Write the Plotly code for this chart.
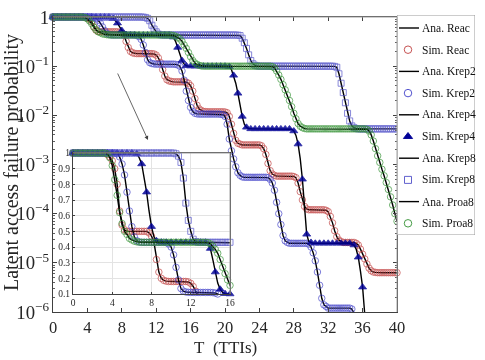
import math
import plotly.graph_objects as go

# ---------------- data ----------------
T = [i * 0.25 for i in range(161)]  # TTIs, 0 .. 40 step 0.25

REAC = [
    1.0, 1.0, 1.0, 1.0,
    1.0, 1.0, 1.0, 1.0,
    1.0, 1.0, 1.0, 1.0,
    1.0, 1.0, 0.99, 0.975,
    0.95, 0.9, 0.8, 0.63,
    0.54, 0.51, 0.5, 0.5,
    0.5, 0.5, 0.5, 0.5,
    0.5, 0.5, 0.5, 0.49,
    0.47, 0.43, 0.32, 0.24,
    0.2, 0.187, 0.182, 0.18,
    0.18, 0.18, 0.18, 0.18,
    0.18, 0.18, 0.18, 0.177,
    0.168, 0.148, 0.118, 0.085,
    0.063, 0.053, 0.05, 0.049,
    0.048, 0.048, 0.048, 0.048,
    0.048, 0.048, 0.047, 0.045,
    0.04, 0.031, 0.022, 0.016,
    0.0135, 0.0125, 0.012, 0.0119,
    0.0118, 0.0118, 0.0118, 0.0118,
    0.0118, 0.0118, 0.0118, 0.0118,
    0.0117, 0.0113, 0.0095, 0.0066,
    0.0043, 0.0031, 0.0027, 0.0026,
    0.0025, 0.0025, 0.0025, 0.0025,
    0.0025, 0.0025, 0.0025, 0.0025,
    0.0025, 0.0024, 0.0021, 0.0016,
    0.00105, 0.00075, 0.00064, 0.0006,
    0.00058, 0.00058, 0.00058, 0.00058,
    0.00058, 0.00058, 0.00058, 0.00058,
    0.00057, 0.00054, 0.00042, 0.00028,
    0.00019, 0.00014, 0.000125, 0.00012,
    0.00012, 0.00012, 0.00012, 0.00012,
    0.00012, 0.00012, 0.00012, 0.000117,
    0.00011, 8.8e-5, 6.5e-5, 4.5e-5,
    3.4e-5, 2.9e-5, 2.7e-5, 2.6e-5,
    2.6e-5, 2.6e-5, 2.6e-5, 2.6e-5,
    2.6e-5, 2.5e-5, 2.3e-5, 1.9e-5,
    1.5e-5, 1.2e-5, 9.5e-6, 7.8e-6,
    6.9e-6, 6.5e-6, 6.4e-6, 6.3e-6,
    6.3e-6, 6.3e-6, 6.3e-6, 6.3e-6,
    6.3e-6, 6.3e-6, 6.3e-6, 6.3e-6,
    6.3e-6,
]

KREP2 = [
    1.0, 1.0, 1.0, 1.0,
    1.0, 1.0, 1.0, 1.0,
    1.0, 1.0, 1.0, 1.0,
    1.0, 1.0, 1.0, 1.0,
    1.0, 1.0, 0.995, 0.975,
    0.93, 0.86, 0.75, 0.63,
    0.53, 0.465, 0.44, 0.432,
    0.43, 0.43, 0.43, 0.43,
    0.43, 0.43, 0.43, 0.43,
    0.43, 0.43, 0.428, 0.42,
    0.4, 0.35, 0.27, 0.19,
    0.135, 0.118, 0.113, 0.111,
    0.11, 0.11, 0.11, 0.11,
    0.11, 0.11, 0.11, 0.11,
    0.11, 0.109, 0.106, 0.1,
    0.08, 0.052, 0.031, 0.02,
    0.0145, 0.012, 0.011, 0.0107,
    0.0106, 0.0106, 0.0106, 0.0106,
    0.0106, 0.0106, 0.0106, 0.0106,
    0.0106, 0.0106, 0.0105, 0.0103,
    0.0095, 0.0066, 0.0033, 0.0019,
    0.0013, 0.0009, 0.00068, 0.0006,
    0.00056, 0.00055, 0.00055, 0.00055,
    0.00055, 0.00055, 0.00055, 0.00055,
    0.00055, 0.00055, 0.00055, 0.00055,
    0.00054, 0.0005, 0.00042, 0.0003,
    0.00017, 0.0001, 6.0e-5, 3.6e-5,
    2.8e-5, 2.6e-5, 2.5e-5, 2.5e-5,
    2.5e-5, 2.5e-5, 2.5e-5, 2.5e-5,
    2.5e-5, 2.5e-5, 2.5e-5, 2.4e-5,
    2.1e-5, 1.6e-5, 1.1e-5, 6.5e-6,
    3.5e-6, 1.9e-6, 1.4e-6, 1.3e-6,
    1.2e-6, 1.2e-6, 1.2e-6, 1.2e-6,
    1.2e-6, 1.2e-6, 1.2e-6, 1.2e-6,
    1.2e-6, 1.2e-6, 1.2e-6, 1.15e-6,
    9.5e-7, 6.0e-7, 2.8e-7, 1.2e-7,
    7.0e-8, 5.0e-8, 4.0e-8, 4.0e-8,
    4.0e-8, 4.0e-8, 4.0e-8, 4.0e-8,
    4.0e-8, 4.0e-8, 4.0e-8, 4.0e-8,
    4.0e-8, 4.0e-8, 4.0e-8, 4.0e-8,
    4.0e-8,
]

KREP4 = [
    1.0, 1.0, 1.0, 1.0,
    1.0, 1.0, 1.0, 1.0,
    1.0, 1.0, 1.0, 1.0,
    1.0, 1.0, 1.0, 1.0,
    1.0, 1.0, 1.0, 1.0,
    1.0, 1.0, 1.0, 1.0,
    1.0, 1.0, 0.995, 0.97,
    0.93, 0.85, 0.75, 0.63,
    0.53, 0.465, 0.44, 0.432,
    0.43, 0.43, 0.43, 0.43,
    0.43, 0.43, 0.43, 0.43,
    0.43, 0.43, 0.43, 0.43,
    0.43, 0.43, 0.43, 0.43,
    0.43, 0.43, 0.43, 0.425,
    0.39, 0.32, 0.24, 0.17,
    0.13, 0.11, 0.102, 0.1,
    0.1, 0.1, 0.1, 0.1,
    0.1, 0.1, 0.1, 0.1,
    0.1, 0.1, 0.1, 0.1,
    0.1, 0.1, 0.1, 0.1,
    0.1, 0.1, 0.098, 0.085,
    0.065, 0.045, 0.028, 0.016,
    0.0095, 0.0066, 0.0057, 0.0054,
    0.0053, 0.0053, 0.0053, 0.0053,
    0.0053, 0.0053, 0.0053, 0.0053,
    0.0053, 0.0053, 0.0053, 0.0053,
    0.0053, 0.0053, 0.0053, 0.0053,
    0.0053, 0.0053, 0.0053, 0.0052,
    0.0048, 0.0039, 0.0026, 0.0013,
    0.0005, 0.00013, 3.8e-5, 2.7e-5,
    2.6e-5, 2.5e-5, 2.5e-5, 2.5e-5,
    2.5e-5, 2.5e-5, 2.5e-5, 2.5e-5,
    2.5e-5, 2.5e-5, 2.5e-5, 2.5e-5,
    2.5e-5, 2.5e-5, 2.5e-5, 2.5e-5,
    2.5e-5, 2.5e-5, 2.5e-5, 2.4e-5,
    2.3e-5, 1.9e-5, 1.3e-5, 6.8e-6,
    3.2e-6, 9.0e-7, 2.5e-7, 1.0e-7,
    6.0e-8, 5.0e-8, 5.0e-8, 5.0e-8,
    5.0e-8, 5.0e-8, 5.0e-8, 5.0e-8,
    5.0e-8, 5.0e-8, 5.0e-8, 5.0e-8,
    5.0e-8,
]

KREP8 = [
    1.0, 1.0, 1.0, 1.0,
    1.0, 1.0, 1.0, 1.0,
    1.0, 1.0, 1.0, 1.0,
    1.0, 1.0, 1.0, 1.0,
    1.0, 1.0, 1.0, 1.0,
    1.0, 1.0, 1.0, 1.0,
    1.0, 1.0, 1.0, 1.0,
    1.0, 1.0, 1.0, 1.0,
    1.0, 1.0, 1.0, 1.0,
    1.0, 1.0, 1.0, 1.0,
    1.0, 1.0, 0.995, 0.98,
    0.94, 0.84, 0.68, 0.57,
    0.5, 0.45, 0.435, 0.43,
    0.43, 0.43, 0.43, 0.43,
    0.43, 0.43, 0.43, 0.43,
    0.43, 0.43, 0.43, 0.43,
    0.43, 0.43, 0.43, 0.43,
    0.43, 0.43, 0.43, 0.43,
    0.43, 0.43, 0.43, 0.43,
    0.43, 0.43, 0.43, 0.43,
    0.43, 0.43, 0.43, 0.43,
    0.43, 0.43, 0.428, 0.42,
    0.37, 0.3, 0.23, 0.17,
    0.13, 0.112, 0.104, 0.101,
    0.1, 0.1, 0.1, 0.1,
    0.1, 0.1, 0.1, 0.1,
    0.1, 0.1, 0.1, 0.1,
    0.1, 0.1, 0.1, 0.1,
    0.1, 0.1, 0.1, 0.1,
    0.1, 0.1, 0.1, 0.1,
    0.1, 0.1, 0.1, 0.1,
    0.1, 0.1, 0.1, 0.1,
    0.1, 0.1, 0.1, 0.099,
    0.095, 0.07, 0.045, 0.029,
    0.018, 0.011, 0.0077, 0.0061,
    0.0056, 0.0054, 0.0053, 0.0053,
    0.0053, 0.0053, 0.0053, 0.0053,
    0.0053, 0.0053, 0.0053, 0.0053,
    0.0053, 0.0053, 0.0053, 0.0053,
    0.0053, 0.0053, 0.0053, 0.0053,
    0.0053,
]

PROA8 = [
    1.0, 1.0, 1.0, 1.0,
    1.0, 1.0, 1.0, 1.0,
    1.0, 1.0, 1.0, 1.0,
    1.0, 1.0, 0.995, 0.97,
    0.92, 0.83, 0.73, 0.62,
    0.55, 0.5, 0.48, 0.455,
    0.445, 0.437, 0.433, 0.431,
    0.43, 0.43, 0.43, 0.43,
    0.43, 0.43, 0.43, 0.43,
    0.43, 0.43, 0.43, 0.43,
    0.43, 0.43, 0.43, 0.43,
    0.43, 0.43, 0.43, 0.43,
    0.43, 0.43, 0.43, 0.43,
    0.43, 0.43, 0.43, 0.428,
    0.42, 0.405, 0.385, 0.36,
    0.32, 0.27, 0.23, 0.19,
    0.155, 0.13, 0.116, 0.108,
    0.104, 0.101, 0.1, 0.1,
    0.1, 0.1, 0.1, 0.1,
    0.1, 0.1, 0.1, 0.1,
    0.1, 0.1, 0.1, 0.1,
    0.1, 0.1, 0.1, 0.1,
    0.1, 0.1, 0.1, 0.1,
    0.1, 0.1, 0.1, 0.1,
    0.1, 0.1, 0.1, 0.1,
    0.1, 0.1, 0.098, 0.092,
    0.08, 0.066, 0.054, 0.042,
    0.033, 0.026, 0.02, 0.015,
    0.011, 0.0085, 0.0068, 0.006,
    0.0056, 0.0054, 0.0053, 0.0053,
    0.0053, 0.0053, 0.0053, 0.0053,
    0.0053, 0.0053, 0.0053, 0.0053,
    0.0053, 0.0053, 0.0053, 0.0053,
    0.0053, 0.0053, 0.0053, 0.0053,
    0.0053, 0.0053, 0.0053, 0.0053,
    0.0053, 0.0053, 0.0053, 0.0053,
    0.0053, 0.0053, 0.0052, 0.0048,
    0.004, 0.003, 0.0021, 0.0015,
    0.0011, 0.0008, 0.00059, 0.00043,
    0.00031, 0.00022, 0.00015, 0.0001,
    7.0e-5,
]

SCHEMES = ["Reac", "Krep2", "Krep4", "Krep8", "Proa8"]
VALUES = [REAC, KREP2, KREP4, KREP8, PROA8]
MARKERS = ["circle-open", "circle-open", "triangle-up", "square-open", "circle-open"]
COLORS = ["rgb(192,64,64)", "rgb(64,64,200)", "rgb(0,0,150)", "rgb(80,80,200)", "rgb(50,145,50)"]
SIZES = [6.5, 6.5, 7, 6, 6.5]
STEPS = [1, 1, 2, 1, 1]

ZOOM_X = 16          # inset / zoom box limits
ZOOM_Y = 0.08
INSET_XTICKS = [0, 4, 8, 12, 16]
INSET_YTICKS = [0.1, 0.2, 0.3, 0.4, 0.5, 0.6, 0.7, 0.8, 0.9, 1.0]
INSET_YTEXT = ["0.1", "0.2", "0.3", "0.4", "0.5", "0.6", "0.7", "0.8", "0.9", "1"]

# ---------------- figure ----------------
W, H = 485, 360
FONT = "Liberation Serif, Times New Roman, serif"
TXT = "#262626"
FRAME_LIGHT = "#a0a0a0"

fig = go.Figure()

for xa, ya in [("x", "y"), ("x2", "y2")]:
    for name, vals, sym, col, sz, st in zip(SCHEMES, VALUES, MARKERS, COLORS, SIZES, STEPS):
        fig.add_trace(go.Scatter(
            x=T, y=vals, mode="lines", xaxis=xa, yaxis=ya,
            line=dict(color="black", width=1.4), showlegend=False, hoverinfo="skip"))
        fig.add_trace(go.Scatter(
            x=T[::st], y=vals[::st], mode="markers", xaxis=xa, yaxis=ya,
            marker=dict(symbol=sym, size=sz, color=col, line=dict(color=col, width=0.8)),
            opacity=0.85, cliponaxis=False, showlegend=False, hoverinfo="skip"))

# ----- manual legend (own invisible axes so it can sit beside the plot) -----
row0, dy = 13, 21.7
for i, (name, sym, col, sz) in enumerate(zip(SCHEMES, MARKERS, COLORS, SIZES)):
    ya = row0 + dy * (2 * i)
    ys = row0 + dy * (2 * i + 1)
    fig.add_trace(go.Scatter(x=[2, 22], y=[ya, ya], mode="lines", xaxis="x3", yaxis="y3",
                             line=dict(color="black", width=1.4), showlegend=False, hoverinfo="skip"))
    fig.add_trace(go.Scatter(x=[11], y=[ys], mode="markers", xaxis="x3", yaxis="y3",
                             marker=dict(symbol=sym, size=sz + 1, color=col, line=dict(color=col, width=0.9)),
                             showlegend=False, hoverinfo="skip"))
    fig.add_annotation(x=23, y=ya, xref="x3", yref="y3", text="Ana. " + name, showarrow=False,
                       xanchor="left", yanchor="middle", font=dict(family=FONT, size=11.5, color="#111"))
    fig.add_annotation(x=23, y=ys, xref="x3", yref="y3", text="Sim. " + name, showarrow=False,
                       xanchor="left", yanchor="middle", font=dict(family=FONT, size=11.5, color="#111"))

fig.add_shape(type="rect", xref="x3", yref="y3", x0=0, x1=78, y0=0, y1=220,
              line=dict(color="#9a9a9a", width=1), fillcolor="white", layer="below")

# lighter top / right frame edges (main plot and inset)
fig.add_shape(type="line", xref="x domain", yref="y domain", x0=0, x1=1, y0=1, y1=1,
              line=dict(color=FRAME_LIGHT, width=1), layer="above")
fig.add_shape(type="line", xref="x domain", yref="y domain", x0=1, x1=1, y0=0, y1=1,
              line=dict(color=FRAME_LIGHT, width=1), layer="above")
fig.add_shape(type="line", xref="x2 domain", yref="y2 domain", x0=0, x1=1, y0=1, y1=1,
              line=dict(color=FRAME_LIGHT, width=1), layer="above")
fig.add_shape(type="line", xref="x2 domain", yref="y2 domain", x0=1, x1=1, y0=0, y1=1,
              line=dict(color=FRAME_LIGHT, width=1), layer="above")

# zoom-box lines on the main plot (log axis -> log10 units)
fig.add_shape(type="line", xref="x", yref="y", x0=ZOOM_X, x1=ZOOM_X, y0=math.log10(ZOOM_Y), y1=0,
              line=dict(color="#707070", width=1))
fig.add_shape(type="line", xref="x", yref="y", x0=0, x1=30, y0=math.log10(ZOOM_Y), y1=math.log10(ZOOM_Y),
              line=dict(color="#505050", width=1))

# arrow towards the inset
fig.add_annotation(x=148 / W, y=1 - 140 / H, xref="paper", yref="paper", ax=-31, ay=-68,
                   text="", showarrow=True, arrowhead=2, arrowsize=1, arrowwidth=0.8,
                   arrowcolor="#404040")

# axis titles as annotations (margins are zero, so place them explicitly)
fig.add_annotation(x=225 / W, y=1 - 347 / H, xref="paper", yref="paper", text="T\u00a0 (TTIs)",
                   showarrow=False, xanchor="center", yanchor="middle",
                   font=dict(family=FONT, size=17, color=TXT))
fig.add_annotation(x=12 / W, y=1 - 163 / H, xref="paper", yref="paper",
                   text="Latent access failure probability", textangle=-90,
                   showarrow=False, xanchor="center", yanchor="middle",
                   font=dict(family=FONT, size=20, color=TXT))

axis_common = dict(showgrid=False, zeroline=False, linecolor="#404040", linewidth=1,
                   ticks="inside", tickcolor="#404040", automargin=False)

fig.update_layout(
    template="none",
    width=W, height=H,
    margin=dict(l=0, r=0, t=0, b=0),
    paper_bgcolor="white", plot_bgcolor="white",
    font=dict(family=FONT, color=TXT),
    showlegend=False,
    xaxis=dict(domain=[53 / W, 397 / W], range=[0, 40], dtick=4, tick0=0, ticklen=4,
               mirror="ticks", tickfont=dict(size=16.5, family=FONT, color=TXT),
               anchor="y", **axis_common),
    yaxis=dict(domain=[1 - 312 / H, 1 - 17 / H], type="log", range=[-6, 0], dtick=1,
               exponentformat="power", ticklen=4, mirror="ticks",
               minor=dict(ticks="inside", ticklen=2, tickcolor="#606060"),
               tickfont=dict(size=15, family=FONT, color=TXT),
               anchor="x", **axis_common),
    xaxis2=dict(domain=[73 / W, 230 / W], range=[0, 16], tickvals=INSET_XTICKS,
                showgrid=True, gridcolor="#e3e3e3", zeroline=False, linecolor="#404040",
                mirror=True, ticks="inside", ticklen=2, tickcolor="#404040",
                tickfont=dict(size=9.5, family=FONT, color=TXT), anchor="y2", automargin=False),
    yaxis2=dict(domain=[1 - 294 / H, 1 - 153 / H], range=[0.1, 1], tickvals=INSET_YTICKS,
                ticktext=INSET_YTEXT, showgrid=True, gridcolor="#e3e3e3", zeroline=False,
                linecolor="#404040", mirror=True, ticks="inside", ticklen=2, tickcolor="#404040",
                tickfont=dict(size=9.5, family=FONT, color=TXT), anchor="x2", automargin=False),
    xaxis3=dict(domain=[397 / W, 475 / W], range=[0, 78], visible=False, fixedrange=True, anchor="y3"),
    yaxis3=dict(domain=[1 - 235 / H, 1 - 15 / H], range=[220, 0], visible=False, fixedrange=True, anchor="x3"),
)

fig.write_html("out.html", config={"displayModeBar": False},
               post_script="document.body.style.margin='0px';document.body.style.overflow='hidden';")
